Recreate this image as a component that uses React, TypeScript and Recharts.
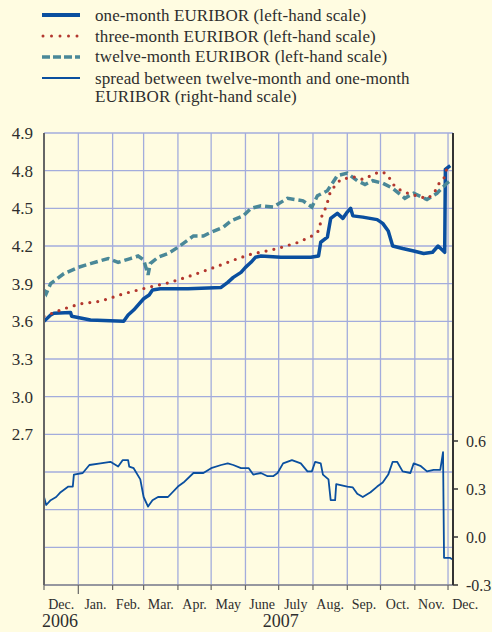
import React from 'react';
import { LineChart, Line, XAxis, YAxis, CartesianGrid } from 'recharts';

// x values are days since 1 December 2006
const monthStarts = [0, 31, 62, 90, 121, 151, 182, 212, 243, 274, 304, 335, 365];
const monthLabels = ['Dec.', 'Jan.', 'Feb.', 'Mar.', 'Apr.', 'May', 'June', 'July', 'Aug.', 'Sep.', 'Oct.', 'Nov.', 'Dec.'];
const yearLabels: Record<number, string> = { 0: '2006', 212: '2007' };

const leftTicks = [1.5, 1.8, 2.1, 2.4, 2.7, 3.0, 3.3, 3.6, 3.9, 4.2, 4.5, 4.8, 5.1];
const leftTickLabels = ['', '', '', '', '2.7', '3.0', '3.3', '3.6', '3.9', '4.2', '4.5', '4.8', '4.9'];
const rightTicks = [-0.3, 0, 0.3, 0.6];

const legendItems = [
  'one-month EURIBOR (left-hand scale)',
  'three-month EURIBOR (left-hand scale)',
  'twelve-month EURIBOR (left-hand scale)',
  'spread between twelve-month and one-month',
  'EURIBOR (right-hand scale)',
];

const oneMonthDays = [0, 6, 9, 24, 25, 42, 72, 76, 81, 90, 95, 98, 105, 130, 160, 166, 171, 178, 182, 187, 191, 196, 214, 241, 248, 250, 256, 259, 265, 270, 274, 277, 279, 288, 301, 306, 311, 315, 324, 334, 343, 351, 356, 362, 362.6, 367];
const oneMonthValues = [3.60, 3.65, 3.665, 3.67, 3.64, 3.61, 3.60, 3.65, 3.69, 3.78, 3.81, 3.85, 3.86, 3.86, 3.87, 3.91, 3.95, 3.99, 4.03, 4.07, 4.11, 4.12, 4.11, 4.11, 4.12, 4.23, 4.27, 4.42, 4.46, 4.42, 4.47, 4.50, 4.44, 4.43, 4.41, 4.38, 4.32, 4.20, 4.18, 4.16, 4.14, 4.15, 4.20, 4.15, 4.81, 4.84];

const threeMonthDays = [0, 18, 33, 51, 72, 94, 114, 135, 157, 175, 189, 196, 211, 230, 242, 248, 250, 251.5, 255, 257, 259, 268, 274, 281, 288, 300, 306, 311, 314.5, 319, 325, 340, 347, 353, 356, 361, 364, 367];
const threeMonthValues = [3.64, 3.70, 3.74, 3.76, 3.82, 3.87, 3.91, 3.97, 4.04, 4.10, 4.14, 4.15, 4.18, 4.23, 4.28, 4.32, 4.39, 4.46, 4.51, 4.58, 4.64, 4.73, 4.74, 4.75, 4.73, 4.78, 4.79, 4.76, 4.70, 4.66, 4.63, 4.59, 4.58, 4.63, 4.69, 4.73, 4.82, 4.85];

const twelveMonthDays = [0, 2, 6, 18, 31, 42, 58, 67, 78, 85, 90, 94, 96, 103, 112, 121, 135, 144, 151, 162, 169, 180, 187, 196, 207, 220, 234, 242, 247, 256, 265, 274, 283, 290, 297, 306, 315, 326, 334, 346, 355, 364, 367];
const twelveMonthValues = [3.85, 3.82, 3.90, 3.98, 4.03, 4.06, 4.10, 4.07, 4.10, 4.12, 4.09, 3.97, 4.06, 4.11, 4.14, 4.19, 4.28, 4.28, 4.31, 4.35, 4.40, 4.44, 4.50, 4.52, 4.51, 4.58, 4.56, 4.51, 4.60, 4.64, 4.76, 4.78, 4.72, 4.69, 4.72, 4.70, 4.66, 4.58, 4.62, 4.57, 4.62, 4.70, 4.72];

const spreadDays = [0, 2, 6, 11, 15, 22, 26, 27, 35, 41, 51, 60, 67, 71, 76, 77, 81, 87, 90, 94, 98, 103, 107, 112, 121, 126, 135, 144, 151, 160, 166, 171, 178, 185, 189, 196, 202, 207, 211, 216, 224, 232, 238, 242, 245, 250, 252, 257, 259, 263, 264, 274, 279, 283, 288, 295, 301, 306, 311, 315, 319, 324, 331, 334, 340, 346, 352, 358, 360.5, 361.4, 367, 368.6];
const spreadValues = [0.25, 0.20, 0.23, 0.25, 0.28, 0.315, 0.315, 0.39, 0.40, 0.45, 0.46, 0.47, 0.44, 0.48, 0.48, 0.44, 0.43, 0.36, 0.25, 0.19, 0.23, 0.25, 0.25, 0.25, 0.315, 0.34, 0.40, 0.40, 0.43, 0.45, 0.46, 0.45, 0.43, 0.43, 0.39, 0.40, 0.38, 0.38, 0.40, 0.46, 0.48, 0.46, 0.41, 0.41, 0.47, 0.46, 0.39, 0.36, 0.23, 0.23, 0.33, 0.315, 0.31, 0.27, 0.25, 0.28, 0.315, 0.34, 0.39, 0.47, 0.47, 0.41, 0.40, 0.46, 0.445, 0.41, 0.42, 0.42, 0.53, -0.13, -0.13, -0.14];

const zip = (days: number[], vals: number[]) => days.map((d, i) => ({ d, v: vals[i] }));
const oneMonth = zip(oneMonthDays, oneMonthValues);
const threeMonth = zip(threeMonthDays, threeMonthValues);
const twelveMonth = zip(twelveMonthDays, twelveMonthValues);
const spread = zip(spreadDays, spreadValues);

const FONT = 'Liberation Serif, Times New Roman, Times, serif';
const BG = '#fffce1';
const TEXT = '#2e2e2e';
const BLUE = '#0a4f9f';
const RED = '#b3372e';
const TEAL = '#4a8898';
const GRID = '#a3acdc';
const AXIS = '#666666';

const X_DOMAIN_MAX = 369.5;
const PLOT_W = 409;
const PX_PER_DAY = PLOT_W / X_DOMAIN_MAX;

const XTick = (props: any) => {
  const { x, y, payload } = props;
  const val = payload.value as number;
  const i = monthStarts.indexOf(val);
  const next = i >= 0 && i < monthStarts.length - 1 ? monthStarts[i + 1] : val + 31;
  const off = ((next - val) / 2) * PX_PER_DAY;
  const isJan = val === 31;
  const year = yearLabels[val];
  return (
    <g>
      <line x1={x} y1={y} x2={x} y2={y + (isJan ? 9 : 5)} stroke={AXIS} strokeWidth={1.2} />
      <text x={x + off} y={y + 24} textAnchor="middle" fontSize={14} fill={TEXT} fontFamily={FONT}>
        {monthLabels[i]}
      </text>
      {year && (
        <text x={val === 0 ? x - 2 : x + 2} y={y + 42} textAnchor={val === 0 ? 'start' : 'middle'} fontSize={18} fill={TEXT} fontFamily={FONT}>
          {year}
        </text>
      )}
    </g>
  );
};

export default function App() {
  return (
    <div style={{ position: 'absolute', left: 0, top: 0, width: 492, height: 632, background: BG, overflow: 'hidden' }}>
      <svg width={492} height={110} style={{ position: 'absolute', left: 0, top: 0 }}>
        <line x1={42} x2={80} y1={15} y2={15} stroke={BLUE} strokeWidth={4} />
        <line x1={43} x2={80} y1={36} y2={36} stroke={RED} strokeWidth={3} strokeDasharray="0 8.5" strokeLinecap="round" />
        <line x1={42} x2={80} y1={57} y2={57} stroke={TEAL} strokeWidth={3.5} strokeDasharray="8 3" />
        <line x1={42} x2={80} y1={78} y2={78} stroke={BLUE} strokeWidth={2} />
        {legendItems.map((t, i) => (
          <text key={i} x={95} y={[21, 42, 62, 84, 102][i]} fontSize={17} letterSpacing={0.1} fill={TEXT} fontFamily={FONT}>
            {t}
          </text>
        ))}
      </svg>
      <div style={{ position: 'absolute', left: 0, top: 0 }}>
        <LineChart width={492} height={632} margin={{ top: 133, right: 0, bottom: 0, left: 0 }}>
          <CartesianGrid yAxisId="left" stroke={GRID} strokeWidth={1.3} />
          <XAxis
            dataKey="d"
            type="number"
            domain={[0, X_DOMAIN_MAX]}
            ticks={monthStarts}
            interval={0}
            height={47}
            tickSize={0}
            tickMargin={0}
            tickLine={false}
            axisLine={{ stroke: '#8a8a8a', strokeWidth: 1.5 }}
            tick={<XTick />}
            allowDataOverflow
          />
          <YAxis
            yAxisId="left"
            orientation="left"
            width={44}
            domain={[1.5, 5.1]}
            ticks={leftTicks}
            interval={0}
            tickSize={0}
            tickLine={false}
            tickMargin={11}
            axisLine={{ stroke: AXIS, strokeWidth: 2 }}
            tickFormatter={(v: number) => leftTickLabels[leftTicks.findIndex((t) => Math.abs(t - v) < 1e-6)] ?? ''}
            tick={{ fontSize: 17, fill: TEXT, fontFamily: FONT }}
            allowDataOverflow
          />
          <YAxis
            yAxisId="right"
            orientation="right"
            width={39}
            domain={[-0.3, 2.525]}
            ticks={rightTicks}
            interval={0}
            tickSize={5}
            tickMargin={8}
            tickLine={{ stroke: '#333', strokeWidth: 1.5 }}
            axisLine={{ stroke: '#333', strokeWidth: 2 }}
            tickFormatter={(v: number) => v.toFixed(1)}
            tick={{ fontSize: 16, fill: TEXT, fontFamily: FONT, textAnchor: 'start' }}
            allowDataOverflow
          />
          <Line yAxisId="left" data={oneMonth} dataKey="v" type="linear" stroke={BLUE} strokeWidth={3.5} dot={false} activeDot={false} isAnimationActive={false} strokeLinejoin="round" />
          <Line yAxisId="left" data={twelveMonth} dataKey="v" type="linear" stroke={TEAL} strokeWidth={3.5} strokeDasharray="8 4" dot={false} activeDot={false} isAnimationActive={false} />
          <Line yAxisId="left" data={threeMonth} dataKey="v" type="linear" stroke={RED} strokeWidth={3.2} strokeDasharray="0 8" strokeLinecap="round" dot={false} activeDot={false} isAnimationActive={false} />
          <Line yAxisId="right" data={spread} dataKey="v" type="linear" stroke={BLUE} strokeWidth={1.8} dot={false} activeDot={false} isAnimationActive={false} strokeLinejoin="round" />
        </LineChart>
      </div>
    </div>
  );
}
